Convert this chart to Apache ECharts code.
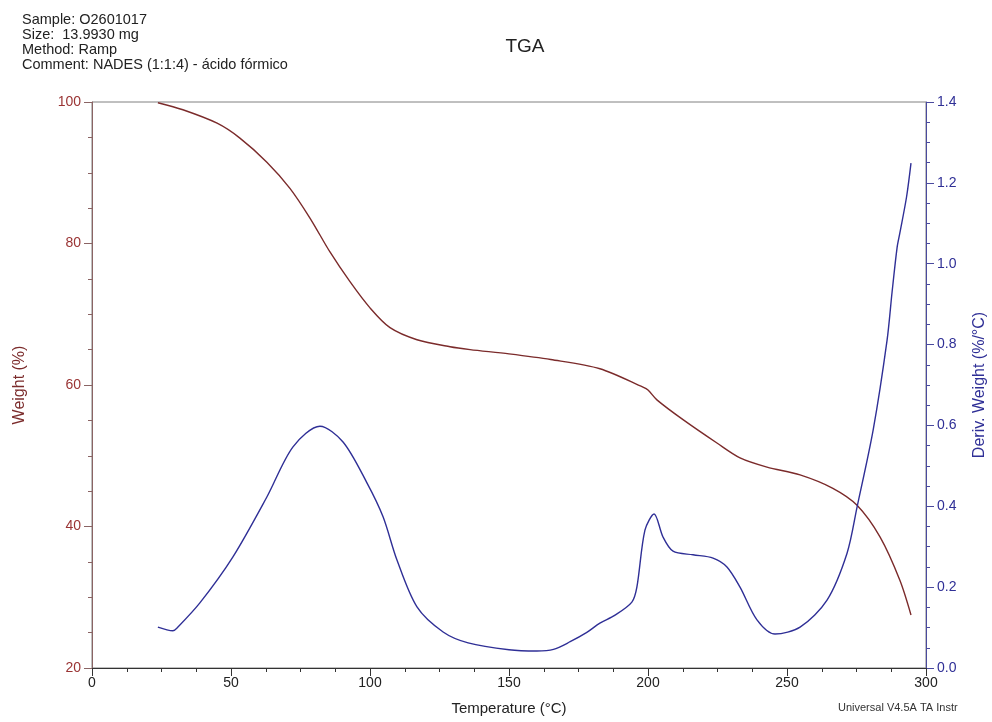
<!DOCTYPE html>
<html>
<head>
<meta charset="utf-8">
<title>TGA</title>
<script src="https://cdn.jsdelivr.net/npm/echarts@6/dist/echarts.min.js"></script>
<style>
  html, body { margin: 0; padding: 0; background: #ffffff; }
  #tga { width: 992px; height: 722px; }
</style>
</head>
<body>
<div id="tga"></div>
<script>
// weight curve (%)
const weightTemp = [23.7, 32.7, 45, 53.2, 62.9, 71.2, 78.4, 85.6, 92.8, 100, 107.2, 116.9, 128.8, 136,
  150, 165, 182.7, 198.2, 200, 203.2, 212.6, 224.8, 233.1, 242.8, 254.7, 266.5, 275.2, 283.5, 290.6, 294.6];
const weightVal = [99.9, 98.9, 97.0, 94.9, 91.5, 87.8, 83.6, 78.8, 74.6, 70.9, 68.1, 66.4, 65.4, 65.0,
  64.4, 63.6, 62.3, 59.7, 59.3, 57.9, 55.1, 51.8, 49.7, 48.4, 47.3, 45.4, 43.0, 38.5, 32.4, 27.5];

// derivative curve (%/°C)
const derivTemp = [23.7, 29.1, 30.6, 38.8, 50.7, 62.9, 72.3, 82, 90.3, 98.9, 104.7, 109.7, 116.9, 126.3, 135.3,
  150, 160, 166, 172, 178, 182.7, 188, 194.2, 196, 198.9, 202.2, 205.4, 209, 216.2, 223.4, 228.4, 233.1,
  239.2, 245.7, 254.7, 264.4, 271.6, 275.2, 281, 286, 287.8, 289.6, 290.6, 293, 294.6];
const derivVal = [0.101, 0.092, 0.099, 0.161, 0.275, 0.423, 0.547, 0.598, 0.559, 0.458, 0.374, 0.267, 0.151, 0.089, 0.062,
  0.045, 0.042, 0.046, 0.065, 0.088, 0.111, 0.13, 0.163, 0.2, 0.341, 0.381, 0.324, 0.289, 0.28, 0.272, 0.25, 0.2,
  0.119, 0.084, 0.101, 0.168, 0.284, 0.398, 0.589, 0.811, 0.93, 1.04, 1.076, 1.165, 1.249];

const headerLines = [
  'Sample: O2601017',
  'Size:  13.9930 mg',
  'Method: Ramp',
  'Comment: NADES (1:1:4) - ácido fórmico'
];

const brown = '#7b2b2b';
const brownText = '#9a3434';
const blue = '#2f2f96';
const font = '"Liberation Sans", Arial, sans-serif';

const weightData = weightTemp.map((t, i) => [t, weightVal[i]]);
const derivData = derivTemp.map((t, i) => [t, derivVal[i]]);

const option = {
  animation: false,
  textStyle: { fontFamily: font },
  title: {
    text: 'TGA',
    left: 520,
    top: 32,
    textAlign: 'center',
    textStyle: { fontSize: 19, fontWeight: 'normal', color: '#222', fontFamily: font }
  },
  graphic: [
    {
      type: 'text',
      left: 22,
      top: 12,
      style: {
        text: headerLines.join('\n'),
        font: '14.5px ' + font,
        lineHeight: 15,
        fill: '#222'
      }
    },
    {
      type: 'text',
      left: 838,
      top: 702,
      style: {
        text: 'Universal V4.5A TA Instr',
        font: '11px ' + font,
        fill: '#333'
      }
    }
  ],
  grid: {
    left: 92,
    right: 66,
    top: 102,
    bottom: 54,
    outerBoundsMode: 'none',
    containLabel: false,
    show: true,
    borderColor: '#808080',
    borderWidth: 1
  },
  xAxis: {
    type: 'value',
    min: 0,
    max: 300,
    interval: 50,
    name: 'Temperature (°C)',
    nameLocation: 'middle',
    nameGap: 33,
    nameTextStyle: { fontSize: 15, color: '#222' },
    axisLine: { lineStyle: { color: '#333' } },
    axisTick: { length: 8, lineStyle: { color: '#333' } },
    minorTick: { show: true, splitNumber: 4, length: 4, lineStyle: { color: '#333' } },
    axisLabel: { fontSize: 14, color: '#222', margin: 8 },
    splitLine: { show: false }
  },
  yAxis: [
    {
      type: 'value',
      position: 'left',
      min: 20,
      max: 100,
      interval: 20,
      name: 'Weight (%)',
      nameLocation: 'middle',
      nameGap: 64,
      nameTextStyle: { fontSize: 16, color: brown },
      axisLine: { show: true, lineStyle: { color: '#8a6464' } },
      axisTick: { show: true, length: 8, lineStyle: { color: '#8a6464' } },
      minorTick: { show: true, splitNumber: 4, length: 4, lineStyle: { color: '#8a6464' } },
      axisLabel: { fontSize: 14, color: brownText, margin: 11 },
      splitLine: { show: false }
    },
    {
      type: 'value',
      position: 'right',
      min: 0,
      max: 1.4,
      interval: 0.2,
      name: 'Deriv. Weight (%/°C)',
      nameLocation: 'middle',
      nameGap: 46,
      nameRotate: 90,
      nameTextStyle: { fontSize: 16, color: blue },
      axisLine: { show: true, lineStyle: { color: '#4a4a9e' } },
      axisTick: { show: true, length: 8, lineStyle: { color: '#4a4a9e' } },
      minorTick: { show: true, splitNumber: 4, length: 4, lineStyle: { color: '#4a4a9e' } },
      axisLabel: { fontSize: 14, color: blue, margin: 11, formatter: v => v.toFixed(1) },
      splitLine: { show: false }
    }
  ],
  series: [
    {
      name: 'Weight',
      type: 'line',
      yAxisIndex: 0,
      data: weightData,
      smooth: 0.3,
      showSymbol: false,
      lineStyle: { color: brown, width: 1.4 }
    },
    {
      name: 'Deriv. Weight',
      type: 'line',
      yAxisIndex: 1,
      data: derivData,
      smooth: 0.3,
      showSymbol: false,
      lineStyle: { color: blue, width: 1.4 }
    }
  ]
};

const chart = echarts.init(document.getElementById('tga'), null, { renderer: 'canvas' });
chart.setOption(option);
</script>
</body>
</html>
